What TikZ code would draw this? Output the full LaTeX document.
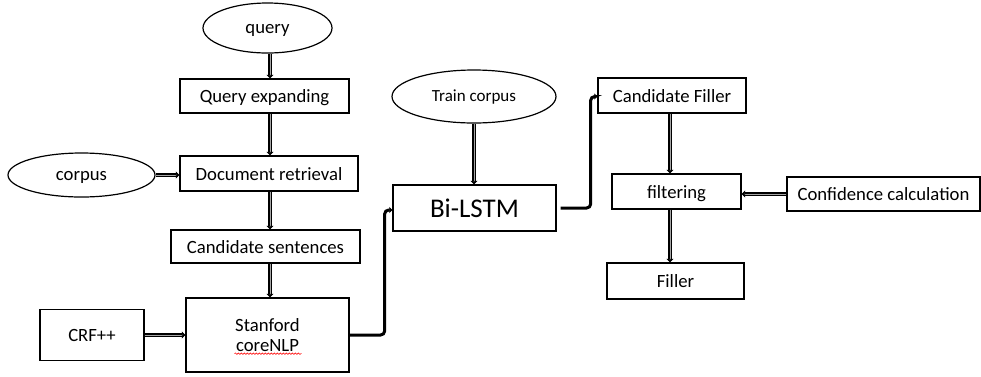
\documentclass[tikz,border=0pt]{standalone}
\usepackage{fontspec}
\setmainfont{Carlito}
\usetikzlibrary{shapes.geometric,arrows.meta,decorations.pathmorphing}
\tikzset{box/.style={draw,line width=1.3pt,inner sep=0pt,minimum height=34pt,text height=14pt,text depth=1pt,font=\fontsize{18.7}{20}\selectfont}}
\tikzset{blob/.style={ellipse,draw,line width=1.2pt,inner sep=0pt,text height=12pt,text depth=2pt,font=\fontsize{18.7}{20}\selectfont}}
\tikzset{feed/.style={line width=1.1pt,double=gray!70,double distance=1pt,-{Triangle[width=7pt,length=3.5pt]}}}
\tikzset{elbow/.style={line width=3pt,rounded corners=4pt,-{Triangle[width=6pt,length=3pt]}}}
\tikzset{spell/.style={red,line width=0.6pt,decorate,decoration={snake,amplitude=0.7pt,segment length=3pt}}}

\begin{document}
\begin{tikzpicture}[x=1pt,y=-1pt]
    \useasboundingbox (0,0) rectangle (981,376);
    \coordinate (spine) at (270,0);
    \coordinate (rspine) at (670,0);
    % left column
    \node[blob,minimum width=129pt,minimum height=50pt] (query) at (267.5,28) {query};
    \node[box,minimum width=169pt] (qexp) at (264.5,96) {Query expanding};
    \node[box,minimum width=178pt,minimum height=35pt] (docret) at (269,173.5) {Document retrieval};
    \node[blob,minimum width=147pt,minimum height=44pt] (corpus) at (81.5,175) {corpus};
    \node[box,minimum width=189pt,minimum height=33pt] (cands) at (265.5,246.5) {Candidate sentences};
    \node[box,minimum width=163pt,minimum height=74pt,align=center,text height=,text depth=] (nlp) at (267.5,335) {Stanford\\coreNLP};
    \node[box,minimum width=104pt,minimum height=51pt] (crf) at (92,335) {CRF++};
    \draw[feed] (query.south -| spine) -- (qexp.north -| spine);
    \draw[feed] (qexp.south -| spine) -- (docret.north -| spine);
    \draw[feed] (docret.south -| spine) -- (cands.north -| spine);
    \draw[feed] (cands.south -| spine) -- (nlp.north -| spine);
    \draw[feed] (corpus.east) -- (corpus.east -| docret.west);
    \draw[feed] (crf.east) -- (nlp.west);
    \draw[spell] ([shift={(-33,-19)}]nlp.south) -- ++(67,0);
    % middle
    \node[blob,minimum width=164pt,minimum height=53pt,font=\fontsize{17}{20}\selectfont] (train) at (474,96.5) {Train corpus};
    \node[box,minimum width=163pt,minimum height=46pt,text height=19pt,text depth=1pt,font=\fontsize{27}{30}\selectfont] (lstm) at (474.5,208) {Bi-LSTM};
    \draw[feed] (train.south) -- (train.south |- lstm.north);
    \draw[elbow] (nlp.east) -- ++(35,0) |- ([yshift=-2pt]lstm.west);
    % right column
    \node[box,minimum width=148pt,minimum height=35pt] (candf) at (672,95.5) {Candidate Filler};
    \node[box,minimum width=129pt,minimum height=35pt] (filt) at (676.5,191.5) {filtering};
    \node[box,minimum width=193pt,minimum height=34pt] (conf) at (883.5,194) {Confidence calculation};
    \node[box,minimum width=137pt,minimum height=36pt] (fill) at (675.5,281) {Filler};
    \draw[elbow] ([xshift=4pt]lstm.east) -- ++(30,0) |- ([yshift=-1pt]candf.west);
    \draw[feed] (candf.south -| rspine) -- (filt.north -| rspine);
    \draw[feed] (filt.south -| rspine) -- (fill.north -| rspine);
    \draw[feed] (conf.west) -- (conf.west -| filt.east);
\end{tikzpicture}
\end{document}
